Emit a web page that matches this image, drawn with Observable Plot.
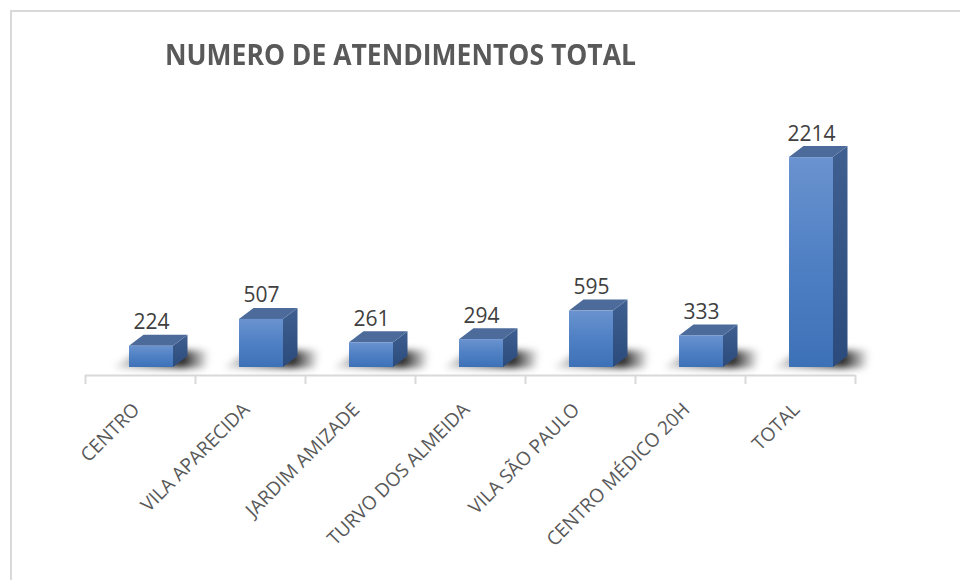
<!DOCTYPE html>
<html><head><meta charset="utf-8">
<script src="https://cdn.jsdelivr.net/npm/d3@7"></script>
<script src="https://cdn.jsdelivr.net/npm/@observablehq/plot@0.6"></script>
<style>
body{margin:0;background:#fff;width:960px;height:580px;overflow:hidden;position:relative;font-family:"Open Sans",sans-serif}
#frame{position:absolute;left:10px;top:10px;width:960px;height:580px;border-left:2px solid #d9d9d9;border-top:2px solid #d9d9d9;box-sizing:border-box}
#title{position:absolute;left:165px;top:35px;font-weight:700;font-size:26.5px;color:#595959;white-space:nowrap;line-height:36px;transform:scaleY(1.08);transform-origin:left top}
#chart{position:absolute;left:0;top:0}
</style></head><body>
<div id="frame"></div><div id="chart"></div><div id="title">NUMERO DE ATENDIMENTOS TOTAL</div>
<script>
const categories = ["CENTRO","VILA APARECIDA","JARDIM AMIZADE","TURVO DOS ALMEIDA","VILA SÃO PAULO","CENTRO MÉDICO 20H","TOTAL"];
const values = [224, 507, 261, 294, 595, 333, 2214];
const yMax = 2500;

const W = 960, H = 580, mL = 85, mR = 105, mT = 130, mB = 213;
const pxX = (W - mL - mR) / categories.length;
const pxY = (H - mT - mB) / yMax;
const dX = 14.5 / pxX, dY = 11 / pxY;

const bars = categories.map((c, i) => ({c, i, v: values[i], x0: i + 0.4, x1: i + 0.8}));
const topFaces = bars.flatMap(b => [
  {i: b.i, x1: b.x0, y1: b.v, x2: b.x0 + dX, y2: b.v + dY},
  {i: b.i, x1: b.x1, y1: b.v, x2: b.x1 + dX, y2: b.v + dY}
]);
const sideFaces = bars.flatMap(b => [
  {i: b.i, x1: b.x1, y1: 0, x2: b.x1 + dX, y2: dY},
  {i: b.i, x1: b.x1, y1: b.v, x2: b.x1 + dX, y2: b.v + dY}
]);
const shadows = bars.flatMap(b => [
  {i: b.i, x1: b.x0 - 0.14, y1: -1 / pxY, x2: b.x0 + dX - 0.04, y2: dY * 1.5},
  {i: b.i, x1: b.x1 + dX + 0.16, y1: -1 / pxY, x2: b.x1 + dX + 0.2, y2: dY * 1.5}
]);

const plot = Plot.plot({
  width: W, height: H,
  marginLeft: mL, marginRight: mR, marginTop: mT, marginBottom: mB,
  x: {type: "linear", domain: [0, categories.length], axis: null},
  y: {domain: [0, yMax], axis: null},
  style: {background: "transparent", overflow: "visible", fontFamily: "'Open Sans', sans-serif"},
  marks: [
    Plot.ruleY([0], {x1: 0, x2: categories.length, dy: 8, stroke: "#d9d9d9", strokeWidth: 2}),
    Plot.ruleX(d3.range(categories.length + 1), {y1: 0, y2: -9 / pxY, dy: 8, stroke: "#d9d9d9", strokeWidth: 2}),
    Plot.area(shadows, {x1: "x1", y1: "y1", x2: "x2", y2: "y2", z: "i", fill: "url(#gShadow)", ariaDescription: "shadow"}),
    Plot.area(sideFaces, {x1: "x1", y1: "y1", x2: "x2", y2: "y2", z: "i", fill: "url(#gSide)"}),
    Plot.area(topFaces, {x1: "x1", y1: "y1", x2: "x2", y2: "y2", z: "i", fill: "#4c6b9b"}),
    Plot.rect(bars, {x1: "x0", x2: "x1", y1: 0, y2: "v", fill: "url(#gFront)"}),
    Plot.text(bars, {x: d => d.x0 + 0.2, y: d => d.v + dY, text: d => String(d.v), lineAnchor: "bottom", dy: -6, fontSize: 21, fill: "#404040"}),
    Plot.text(categories, {x: (d, i) => i + 0.5, y: 0, dy: 39, dx: -4, rotate: -45, textAnchor: "end", fontSize: 19, fill: "#595959"})
  ]
});

const defs = d3.select(plot).insert("defs", ":first-child");
defs.html(`
<linearGradient id="gFront" x1="0" y1="0" x2="0" y2="1">
  <stop offset="0" stop-color="#6a93cf"/>
  <stop offset="0.5" stop-color="#4f80c4"/>
  <stop offset="1" stop-color="#3d71b7"/>
</linearGradient>
<linearGradient id="gSide" x1="0" y1="0" x2="0" y2="1">
  <stop offset="0" stop-color="#3f5f90"/>
  <stop offset="1" stop-color="#2a4b7b"/>
</linearGradient>
<linearGradient id="gShadow" x1="0" y1="0" x2="1" y2="0">
  <stop offset="0" stop-color="#000" stop-opacity="0.1"/>
  <stop offset="0.3" stop-color="#000" stop-opacity="0.4"/>
  <stop offset="0.72" stop-color="#000" stop-opacity="0.85"/>
  <stop offset="1" stop-color="#000" stop-opacity="0"/>
</linearGradient>
<filter id="blur" x="-50%" y="-100%" width="200%" height="300%">
  <feGaussianBlur stdDeviation="3.5"/>
</filter>`);
d3.select(plot).selectAll('g[aria-description="shadow"]').attr("filter", "url(#blur)");

document.getElementById("chart").appendChild(plot);
</script>
</body></html>
